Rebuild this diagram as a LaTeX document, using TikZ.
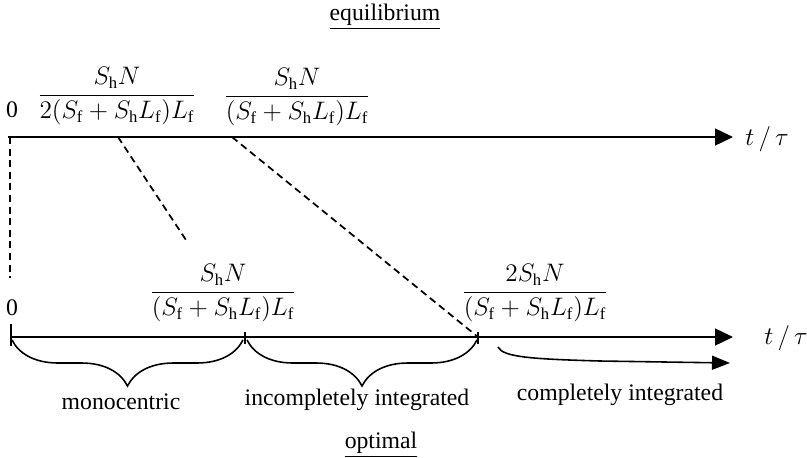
\documentclass[tikz,border=0pt]{standalone}
\usepackage{amsmath,amssymb}
\usepackage{fontspec}
\setmainfont{Liberation Serif}
\usepackage{tikz}
\usetikzlibrary{positioning,arrows.meta,decorations.pathreplacing,calc}

\newcommand{\frc}[2]{$\dfrac{#1}{#2}$}

\begin{document}
\begin{tikzpicture}[
    x=0.02cm, y=-0.02cm,
    every node/.style={font=\fontsize{13.5}{15}\selectfont, inner sep=1pt},
    lbl/.style={anchor=center},
    axis/.style={-{Triangle[length=0.36cm,width=0.34cm]}, line width=0.8pt},
    dsh/.style={dash pattern=on 4pt off 2.6pt, line width=1pt},
    brc/.style={decorate, decoration={brace, mirror, amplitude=0.92cm}, line width=0.9pt},
    tick/.style={line width=0.7pt},
]
    \useasboundingbox (0,0) rectangle (807,457);

    % equilibrium
    \node[lbl] (eq) at (385,17) {\underline{equilibrium}};
    \node[lbl] (z1) at (12,110) {0};
    \node[lbl] (f1) at (117,96) {\frc{S_\mathrm{h}N}{2(S_\mathrm{f}+S_\mathrm{h}L_\mathrm{f})L_\mathrm{f}}};
    \node[lbl] (f2) at (297,97) {\frc{S_\mathrm{h}N}{(S_\mathrm{f}+S_\mathrm{h}L_\mathrm{f})L_\mathrm{f}}};
    \coordinate (a1) at (8,137);
    \coordinate (a2) at (733,137);
    \node[lbl] (t1) at (767,139) {$t\,/\,\tau$};
    \draw[axis] (a1) -- (a2);

    % optimal
    \node[lbl] (z2) at (12,308) {0};
    \node[lbl] (f3) at (223,293) {\frc{S_\mathrm{h}N}{(S_\mathrm{f}+S_\mathrm{h}L_\mathrm{f})L_\mathrm{f}}};
    \node[lbl] (f4) at (535,293) {\frc{2S_\mathrm{h}N}{(S_\mathrm{f}+S_\mathrm{h}L_\mathrm{f})L_\mathrm{f}}};
    \coordinate (b1) at (11,337);
    \coordinate (b2) at (733,337);
    \node[lbl] (t2) at (786,338) {$t\,/\,\tau$};
    \draw[axis] (b1) -- (b2);

    \coordinate (m0) at (11,337);
    \coordinate (m1) at (245,337);
    \coordinate (m2) at (478,337);
    \draw[tick] (m0) ++(0,-13) -- ++(0,22);
    \draw[tick] (m1) ++(0,-5) -- ++(0,12);
    \draw[tick] (m2) ++(0,-5) -- ++(0,12);

    % dashed links
    \coordinate (d1) at (118,137);
    \coordinate (d2) at (188,243);
    \coordinate (d3) at (232,137);
    \coordinate (v1) at (10,137);
    \coordinate (v2) at (10,278);
    \draw[dsh] (v1) -- (v2);
    \draw[dsh] (d1) -- (d2);
    \draw[dsh] (d3) -- (m2);

    % regimes
    \draw[brc] (12,340) -- (243,340);
    \draw[brc] (247,340) -- (477,340);
    \node[lbl] (r1) at (121,402) {monocentric};
    \node[lbl] (r2) at (357,400) {incompletely integrated};
    \node[lbl] (r3) at (620,395) {completely integrated};
    \coordinate (c1) at (498,347);
    \coordinate (c2) at (600,361);
    \coordinate (c3) at (730,363);
    \draw[-{Triangle[length=0.36cm,width=0.28cm]}, line width=0.9pt]
        (c1) .. controls (503,357) and (530,359) .. (c2) -- (c3);

    \node[lbl] (op) at (381,445) {\underline{optimal}};
\end{tikzpicture}
\end{document}
